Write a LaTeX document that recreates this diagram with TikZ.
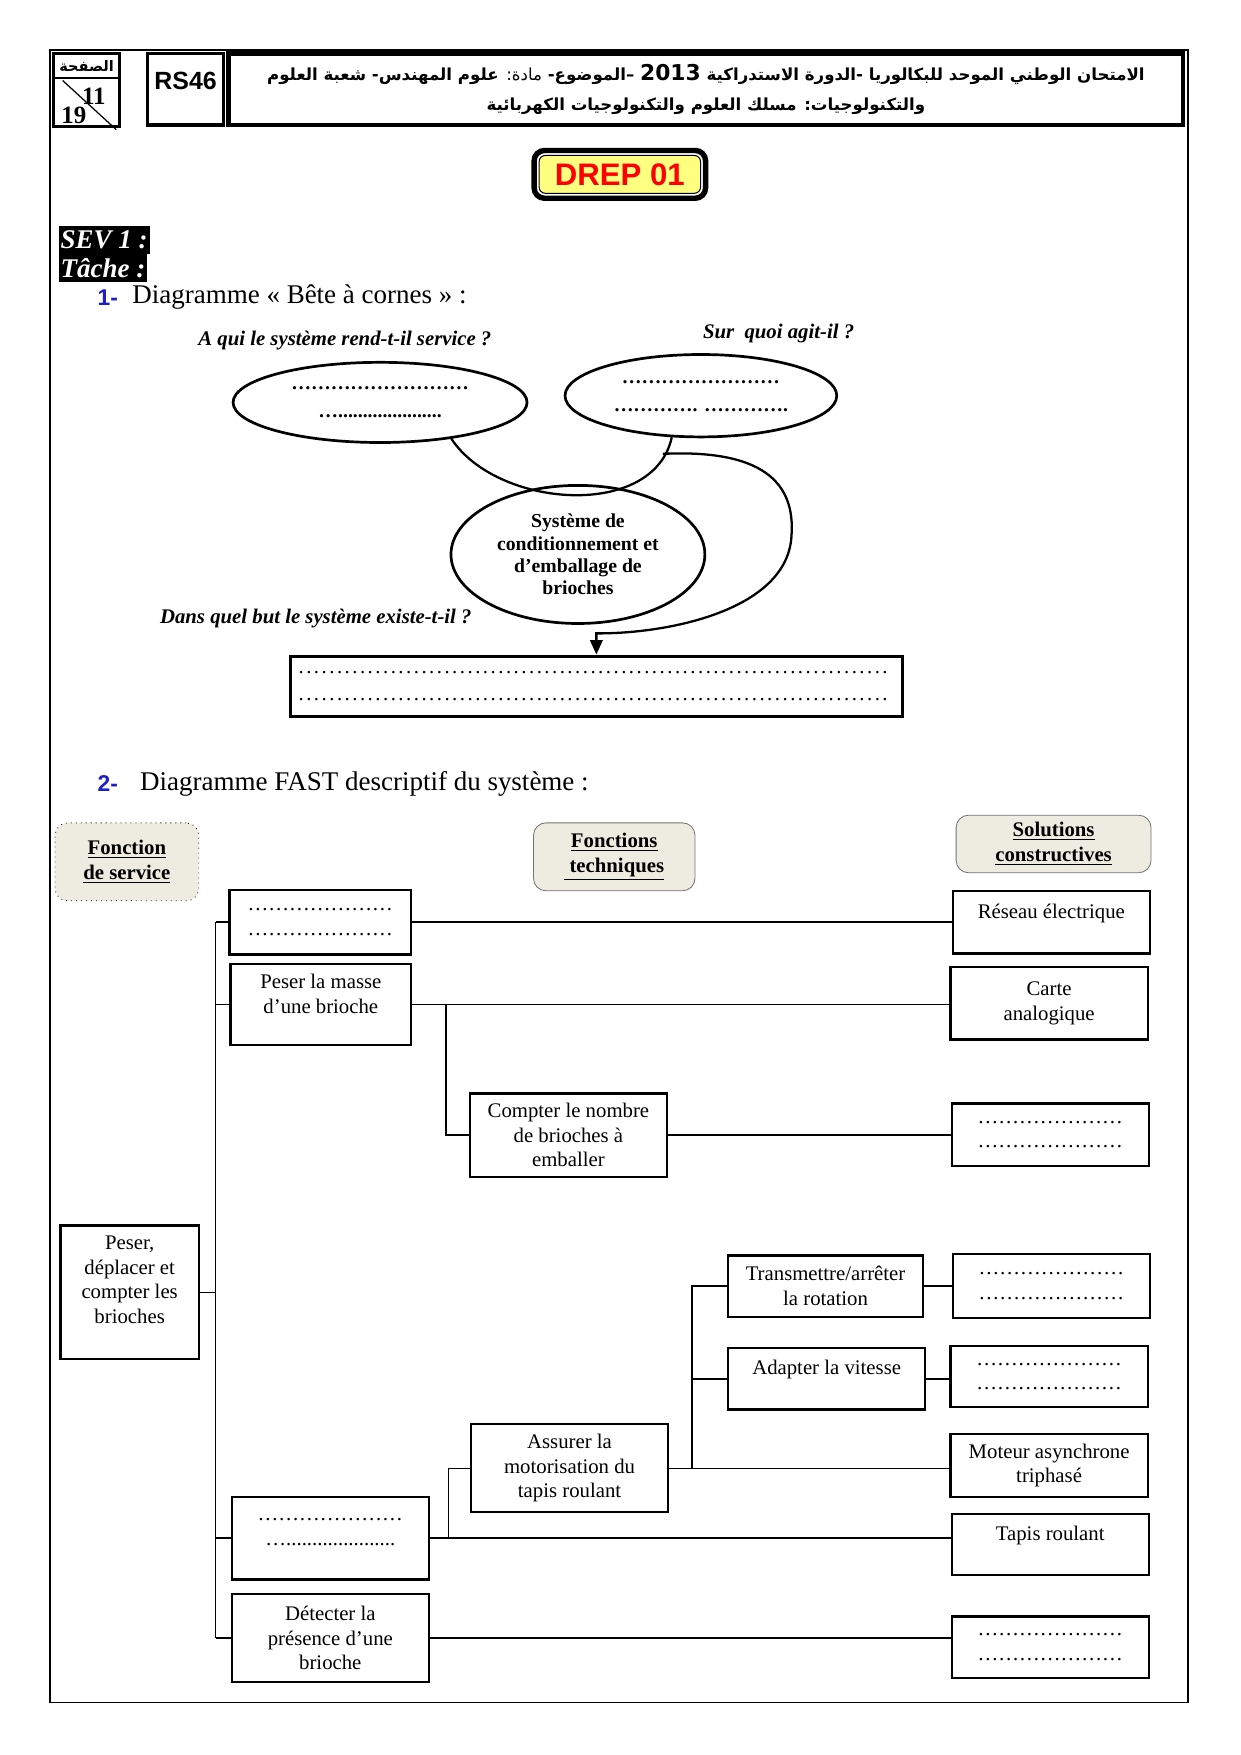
\documentclass[tikz,border=0pt]{standalone}
\usepackage{fontspec}
\setmainfont{Liberation Serif}
\setsansfont{Liberation Sans}
\newfontfamily\arabicfont[Script=Arabic]{DejaVu Sans}
\newfontfamily\yearfont{DejaVu Sans}
\TeXXeTstate=1
\usetikzlibrary{shapes.geometric,arrows.meta,calc}
\newcommand\pxu{0.5363pt}
\newcommand\dotline[1]{\hbox to #1{\leaders\hbox to 3.7pt{\hss.\hss}\hfill}}
\definecolor{headfill}{HTML}{EEECE1}
\definecolor{drepyellow}{HTML}{FFFF80}
\definecolor{numblue}{HTML}{1F1FC8}
\tikzset{
  boxsize/.style 2 args={minimum width=#1*\pxu, minimum height=#2*\pxu},
  fast box/.style={draw, line width=1.1pt, align=center, inner sep=2pt, font=\fontsize{10}{11.8}\selectfont},
  horn node/.style={ellipse, draw, line width=1.3pt, align=center, inner sep=0pt, font=\bfseries\fontsize{9.5}{11.5}\selectfont},
  head node/.style={draw=black!55, rounded corners=6pt, fill=headfill, align=center, font=\bfseries\fontsize{10}{12}\selectfont},
  question/.style={font=\bfseries\itshape\fontsize{10}{12}\selectfont},
  heading/.style={font=\fontsize{13}{15}\selectfont, anchor=west, inner sep=0pt},
  number/.style={font=\sffamily\bfseries\fontsize{11}{13}\selectfont, text=numblue, anchor=west, inner sep=0pt},
  tag/.style={fill=black, text=white, font=\bfseries\itshape\fontsize{13}{15}\selectfont, anchor=west, inner sep=1pt, minimum height=25*\pxu},
  link/.style={line width=0.7pt},
}
\begin{document}
\begin{tikzpicture}[x=0.018919cm, y=-0.018919cm]
\useasboundingbox (0,0) rectangle (1110,1570);
\draw[line width=0.8pt] (45,45) rectangle (1063,1523);

% en-tete
\draw[line width=1.6pt] (48,48) rectangle (107,113);
\draw[line width=1.2pt] (48,70) -- (107,70);
\draw[line width=0.6pt] (56,72) -- (104,116);
\node[font=\arabicfont\bfseries\fontsize{7}{8}\selectfont, inner sep=0pt] (pagelabel) at (77.5,59) {\beginR الصفحة\endR};
\node[font=\bfseries\fontsize{12}{12}\selectfont, inner sep=0pt] (pagenum) at (84,86) {11};
\node[font=\bfseries\fontsize{12}{12}\selectfont, inner sep=0pt] (pagetotal) at (66,103) {19};
\node[draw, line width=1.6pt, boxsize={68}{64}, font=\sffamily\bfseries\fontsize{12}{14}\selectfont, text depth=8pt] (code) at (166,80) {RS46};
\node[draw, line width=2.2pt, boxsize={857}{64}, align=center, font=\arabicfont\bfseries\fontsize{8}{14}\selectfont] (exam) at (631.5,80)
  {\beginR الامتحان الوطني الموحد للبكالوريا -الدورة الاستدراكية \beginL{\yearfont\fontsize{10.5}{14}\selectfont 2013}\endL{} –الموضوع- {\mdseries مادة:} علوم المهندس- شعبة العلوم\endR\\
   \beginR والتكنولوجيات: مسلك العلوم والتكنولوجيات الكهربائية\endR};

\node[fill=drepyellow, draw=black, line width=0.5pt, rounded corners=3pt, boxsize={145}{34}, text=red, font=\sffamily\bfseries\fontsize{15}{17}\selectfont] (drep) at (554.5,156) {DREP 01};
\draw[line width=2.6pt, rounded corners=5pt] ($(drep.south west)+(-4,4)$) rectangle ($(drep.north east)+(4,-4)$);

\node[tag] (sev) at (52,214.5) {SEV 1 :};
\node[tag] (tache) at (52,240) {Tâche :};

% bete a cornes
\node[number] (num1) at (87,266) {1-};
\node[heading] (title1) at (118,266) {Diagramme « Bête à cornes » :};
\node[question] (q1) at (308.5,305) {A qui le système rend-t-il service ?};
\node[question] (q2) at (696.5,298) {Sur\ \ quoi agit-il ?};
\node[question] (q3) at (282.5,553) {Dans quel but le système existe-t-il ?};

\node[horn node, boxsize={264}{72}] (user) at (340,360) {………………………\\[2pt]….....................};
\node[horn node, boxsize={244}{74}] (matter) at (627,354) {……………………\\[2pt]…………. ………….};
\node[horn node, boxsize={228}{124}, font=\bfseries\fontsize{9.5}{10.7}\selectfont] (sys) at (517,496) {Système de\\conditionnement et\\d’emballage de\\brioches};
\node[draw, line width=1.6pt, boxsize={547}{54}, align=center, font=\fontsize{10}{13}\selectfont] (goal) at (533.5,614) {\dotline{288pt}\\\dotline{288pt}};

\draw[line width=1.1pt] (user.-27) .. controls (445,455) and (585,465) .. (matter.-125);
\coordinate (hornfoot) at (593,406);
\coordinate (goalbend) at ($(goal.north)+(0,-19)$);
\draw[line width=1.1pt, -{Triangle[width=6pt,length=7pt]}] (hornfoot) .. controls (680,402) and (712,430) .. (708,480)
  .. controls (704,545) and (600,567) .. (goalbend) -- (goal.north);

% FAST
\node[number] (num2) at (87,701) {2-};
\node[heading] (title2) at (125,701) {Diagramme FAST descriptif du système :};

\node[head node, boxsize={129}{70}, dotted, draw=black] (hservice) at (113.5,771) {\underline{Fonction}\\\underline{de service}};
\node[head node, boxsize={145}{61}] (htech) at (549.5,766.5) {\underline{Fonctions}\\\underline{ techniques}};
\node[head node, boxsize={175}{50}] (hsol) at (942.5,755) {\underline{Solutions}\\\underline{constructives}};

\node[fast box, boxsize={124}{120}, text depth=12pt] (fs) at (116,1156) {Peser,\\déplacer et\\compter les\\brioches};

\node[fast box, boxsize={163}{58}] (fa) at (286.5,825) {…………………\\…………………};
\node[fast box, boxsize={162}{73}, text depth=10pt] (fb) at (287,898.5) {Peser la masse\\d’une brioche};
\node[fast box, boxsize={177}{75}] (fc) at (508.5,1015.5) {Compter le nombre\\de brioches à\\emballer};
\node[fast box, boxsize={175}{55}] (ft) at (738.5,1150.5) {Transmettre/arrêter\\la rotation};
\node[fast box, boxsize={177}{55}, text depth=11pt] (fv) at (739.5,1233.5) {Adapter la vitesse};
\node[fast box, boxsize={177}{79}] (fm) at (509.5,1313.5) {Assurer la\\motorisation du\\tapis roulant};
\node[fast box, boxsize={177}{74}, text depth=6pt] (fd) at (295.5,1376) {…………………\\….....................};
\node[fast box, boxsize={177}{79}] (fdet) at (295.5,1465.5) {Détecter la\\présence d’une\\brioche};

\node[fast box, boxsize={177}{56}, text depth=11pt] (sa) at (940.5,825) {Réseau électrique};
\node[fast box, boxsize={177}{65}] (sb) at (938.5,897.5) {Carte\\analogique};
\node[fast box, boxsize={177}{56}] (sc) at (939.5,1015) {…………………\\…………………};
\node[fast box, boxsize={177}{57}] (st) at (940.5,1150.5) {…………………\\…………………};
\node[fast box, boxsize={177}{55}] (sv) at (938.5,1231.5) {…………………\\…………………};
\node[fast box, boxsize={177}{56}] (sm) at (938.5,1311) {Moteur asynchrone\\triphasé};
\node[fast box, boxsize={177}{55}, text depth=11pt] (sr) at (939.5,1381.5) {Tapis roulant};
\node[fast box, boxsize={177}{55}] (sdet) at (939.5,1473.5) {…………………\\…………………};

\coordinate (bus) at (193,825);
\coordinate (split1) at (399,898);
\coordinate (split2) at (619,1313.5);
\coordinate (split3) at (401,1376);

\draw[link] (fa.west -| bus) -- (fdet.west -| bus);
\draw[link] (fs.east) -- (fs.east -| bus);
\draw[link] (fa.west) -- (fa.west -| bus);
\draw[link] (fb.west) -- (fb.west -| bus);
\draw[link] (fd.west) -- (fd.west -| bus);
\draw[link] (fdet.west) -- (fdet.west -| bus);

\draw[link] (fa.east) -- (fa.east -| sa.west);
\draw[link] (fb.east) -- (fb.east -| sb.west);
\draw[link] (split1) |- (fc.west);
\draw[link] (fc.east) -- (fc.east -| sc.west);
\draw[link] (fm.east) -- (fm.east -| sm.west);
\draw[link] (split2) |- (ft.west);
\draw[link] (fv.west) -- (fv.west -| split2);
\draw[link] (ft.east) -- (ft.east -| st.west);
\draw[link] (fv.east) -- (fv.east -| sv.west);
\draw[link] (fd.east) -- (fd.east -| sr.west);
\draw[link] (split3) |- (fm.west);
\draw[link] (fdet.east) -- (fdet.east -| sdet.west);
\end{tikzpicture}
\end{document}
